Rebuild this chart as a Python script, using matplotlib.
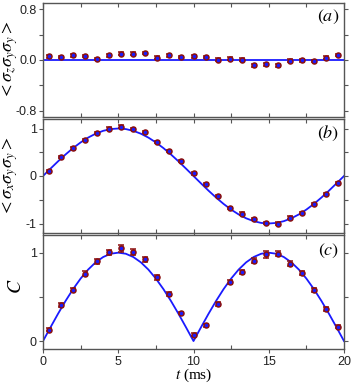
import matplotlib
matplotlib.use("Agg")
import matplotlib.pyplot as plt
from matplotlib.ticker import MultipleLocator

# ---- data ----
t = [0.4, 1.2, 2.0, 2.8, 3.6, 4.4, 5.2, 6.0, 6.8, 7.6, 8.4, 9.2, 10.0,
     10.8, 11.6, 12.4, 13.2, 14.0, 14.8, 15.6, 16.4, 17.2, 18.0, 18.8, 19.6]

zyy = [0.057, 0.047, 0.073, 0.062, 0.016, 0.073, 0.10, 0.10, 0.11, 0.036,
       0.073, 0.05, 0.057, 0.05, 0.005, 0.02, 0.005, -0.083, -0.068, -0.083,
       -0.01, -0.005, -0.016, 0.036, 0.078]
zyy_err = [0.02] * 25

xyy = [0.11, 0.40, 0.58, 0.76, 0.90, 1.00, 1.04, 0.99, 0.92, 0.72, 0.53, 0.31,
       0.056, -0.17, -0.42, -0.67, -0.79, -0.91, -0.99, -1.00, -0.875, -0.78,
       -0.59, -0.375, -0.153]
xyy_err = [0.025] * 25

conc = [0.128, 0.406, 0.583, 0.763, 0.902, 1.004, 1.049, 1.008, 0.925, 0.722,
        0.53, 0.316, 0.073, 0.176, 0.42, 0.67, 0.78, 0.91, 0.98, 0.99, 0.876,
        0.768, 0.58, 0.363, 0.161]
conc_err = [0.015, 0.02, 0.02, 0.025, 0.025, 0.03, 0.04, 0.035, 0.03, 0.03,
            0.025, 0.015, 0.015, 0.015, 0.02, 0.02, 0.025, 0.03, 0.035, 0.03,
            0.025, 0.025, 0.02, 0.02, 0.015]

theory_a_t = [0.0, 20.0]
theory_a = [0.0, 0.0]

curve_t = [i * 0.5 for i in range(41)]
curve_b = [0.0, 0.156, 0.309, 0.454, 0.588, 0.707, 0.809, 0.891, 0.951, 0.988,
           1.0, 0.988, 0.951, 0.891, 0.809, 0.707, 0.588, 0.454, 0.309, 0.156,
           0.0, -0.156, -0.309, -0.454, -0.588, -0.707, -0.809, -0.891, -0.951,
           -0.988, -1.0, -0.988, -0.951, -0.891, -0.809, -0.707, -0.588, -0.454,
           -0.309, -0.156, 0.0]
curve_c = [0.0, 0.156, 0.309, 0.454, 0.588, 0.707, 0.809, 0.891, 0.951, 0.988,
           1.0, 0.988, 0.951, 0.891, 0.809, 0.707, 0.588, 0.454, 0.309, 0.156,
           0.0, 0.156, 0.309, 0.454, 0.588, 0.707, 0.809, 0.891, 0.951,
           0.988, 1.0, 0.988, 0.951, 0.891, 0.809, 0.707, 0.588, 0.454,
           0.309, 0.156, 0.0]

plt.rcParams['font.family'] = ['Liberation Sans', 'DejaVu Sans']
plt.rcParams['mathtext.fontset'] = 'stix'

W, H = 353, 384
fig = plt.figure(figsize=(W / 100, H / 100), dpi=100)

left = 43 / W
width = (344 - 43) / W
panels = [(3, 117), (119, 233), (235, 349)]
axes = []
for top, bot in panels:
    ax = fig.add_axes([left, 1 - bot / H, width, (bot - top) / H])
    axes.append(ax)

blue = '#1a1aff'
red = '#8b1010'
spine_c = '#555555'
label_x = -0.077

def style(ax):
    for s in ax.spines.values():
        s.set_color(spine_c)
        s.set_linewidth(1.0)
    ax.tick_params(which='both', colors=spine_c, labelcolor='#222222',
                   labelsize=9, length=3, width=0.8)
    ax.tick_params(which='both', axis='y', direction='out', right=True, pad=1.5)
    ax.tick_params(which='both', axis='x', direction='in', top=True)
    ax.xaxis.set_major_locator(MultipleLocator(5))
    ax.xaxis.set_minor_locator(MultipleLocator(2.5))
    ax.set_xlim(0, 20)

def data(ax, y, e):
    ax.errorbar(t, y, yerr=e, fmt='o', ms=3.6, mfc=blue, mec=red, mew=1.1,
                ecolor=red, elinewidth=1.0, capsize=2, capthick=1.0, zorder=3)

def panel_label(ax, s, y):
    ax.text(0.985, y, s, transform=ax.transAxes, ha='right', va='center',
            fontsize=13)

# (a)
ax = axes[0]
ax.plot(theory_a_t, theory_a, color=blue, lw=1.3, zorder=2)
data(ax, zyy, zyy_err)
ax.set_ylim(-0.9, 0.9)
ax.set_yticks([-0.8, 0.0, 0.8])
ax.set_yticklabels(['-0.8', '0.0', '0.8'])
ax.yaxis.set_minor_locator(MultipleLocator(0.4))
style(ax)
ax.tick_params(axis='x', labelbottom=False)
ax.set_ylabel(r'$<\sigma_z\sigma_y\sigma_y>$', fontsize=13)
ax.yaxis.set_label_coords(label_x, 0.5)
panel_label(ax, r'$(a)$', 0.88)

# (b)
ax = axes[1]
ax.plot(curve_t, curve_b, color=blue, lw=1.3, zorder=2)
data(ax, xyy, xyy_err)
ax.set_ylim(-1.2, 1.2)
ax.set_yticks([-1, 0, 1])
ax.set_yticklabels(['-1', '0', '1'])
ax.yaxis.set_minor_locator(MultipleLocator(0.5))
style(ax)
ax.tick_params(axis='x', labelbottom=False)
ax.set_ylabel(r'$<\sigma_x\sigma_y\sigma_y>$', fontsize=13)
ax.yaxis.set_label_coords(label_x, 0.5)
panel_label(ax, r'$(b)$', 0.87)

# (c)
ax = axes[2]
ax.plot(curve_t, curve_c, color=blue, lw=1.3, zorder=2)
data(ax, conc, conc_err)
ax.set_ylim(-0.09, 1.2)
ax.set_yticks([0, 1])
ax.set_yticklabels(['0', '1'])
ax.yaxis.set_minor_locator(MultipleLocator(0.5))
style(ax)
ax.tick_params(axis='x', direction='out', pad=2)
ax.set_ylabel(r'$C$', fontsize=14)
ax.yaxis.set_label_coords(-0.06, 0.55)
panel_label(ax, r'$(c)$', 0.86)
ax.set_xlabel(r'$t$ (ms)', fontsize=11, labelpad=-1,
              family=['Liberation Serif', 'DejaVu Serif'])

fig.savefig('out.png', dpi=100)
